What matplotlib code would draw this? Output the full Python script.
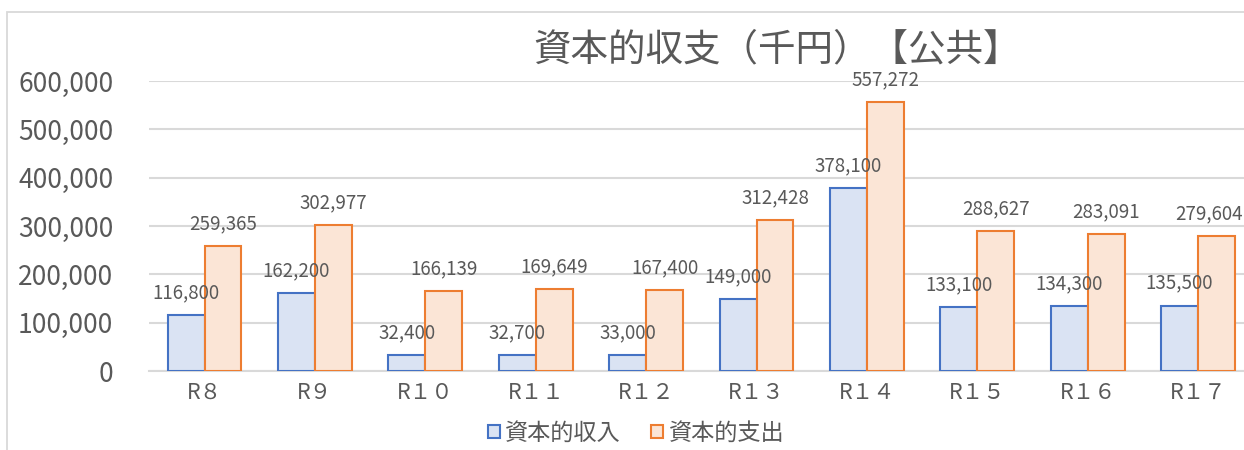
import matplotlib

matplotlib.use('Agg')
import matplotlib.pyplot as plt
from matplotlib.patches import Rectangle
from matplotlib.ticker import FuncFormatter

plt.rcParams['font.family'] = ['Noto Sans CJK JP', 'DejaVu Sans']

# 年度と資本的収支（千円）
years = ['R８', 'R９', 'R１０', 'R１１', 'R１２', 'R１３', 'R１４', 'R１５', 'R１６', 'R１７']
income = [116800, 162200, 32400, 32700, 33000, 149000, 378100, 133100, 134300, 135500]
expense = [259365, 302977, 166139, 169649, 167400, 312428, 557272, 288627, 283091, 279604]

txt = '#595959'
grid = '#D9D9D9'

fig = plt.figure(figsize=(12.44, 4.5), dpi=100)

# グラフエリアの枠線（右と下は切れている）
fig.patches.append(Rectangle((7 / 1244, -0.1), 1.2, 0.1 + (450 - 12) / 450,
                             transform=fig.transFigure, fill=False,
                             edgecolor=grid, linewidth=1.3))

ax = fig.add_axes([149.3 / 1244, 79 / 450, 1104 / 1244, 290 / 450])

x = range(len(years))
w = 0.335
b1 = ax.bar([i - w / 2 for i in x], income, w, color='#DAE3F3', edgecolor='#4472C4',
            linewidth=1.5, label='資本的収入', zorder=3)
b2 = ax.bar([i + w / 2 for i in x], expense, w, color='#FBE5D6', edgecolor='#ED7D31',
            linewidth=1.5, label='資本的支出', zorder=3)

labels = []
for bars, vals in ((b1, income), (b2, expense)):
    for r, v in zip(bars, vals):
        t = ax.annotate(f'{v:,}', (r.get_x() + r.get_width() / 2, v),
                        xytext=(0, 16), textcoords='offset points',
                        ha='center', va='center', fontsize=13.5, color=txt, zorder=4)
        labels.append(t)

ax.set_xlim(-0.5, len(years) - 0.5)
ax.set_ylim(0, 600000)
ax.set_yticks(range(0, 600001, 100000))
ax.yaxis.set_major_formatter(FuncFormatter(lambda v, p: f'{int(v):,}'))
ax.set_xticks(list(x))
ax.set_xticklabels(years)
ax.tick_params(axis='y', length=0, pad=26, labelsize=19, labelcolor=txt)
ax.tick_params(axis='x', length=0, pad=8, labelsize=15.5, labelcolor=txt)
ax.grid(axis='y', color=grid, linewidth=1.5, zorder=0)
for s in ('top', 'right', 'left'):
    ax.spines[s].set_visible(False)
ax.spines['bottom'].set_color(grid)
ax.spines['bottom'].set_linewidth(1.5)

fig.text(777 / 1244, 1 - 50 / 450, '資本的収支（千円）【公共】', ha='center', va='center',
         fontsize=27, color=txt)

fig.legend(handles=[b1, b2], loc='center', bbox_to_anchor=(636 / 1244, 1 - 433 / 450),
           ncol=2, frameon=False, fontsize=16.7, labelcolor=txt,
           handlelength=0.5, handleheight=0.5, handletextpad=0.25, columnspacing=1.3)

# 右端からはみ出すラベルは内側に寄せる
fig.canvas.draw()
r = fig.canvas.get_renderer()
for t in labels:
    bb = t.get_window_extent(r)
    over = bb.x1 - (fig.bbox.width - 1)
    if over > 0:
        t.set_position((-over * 72 / fig.dpi, 16))

plt.savefig('out.png', dpi=100)
plt.close()
